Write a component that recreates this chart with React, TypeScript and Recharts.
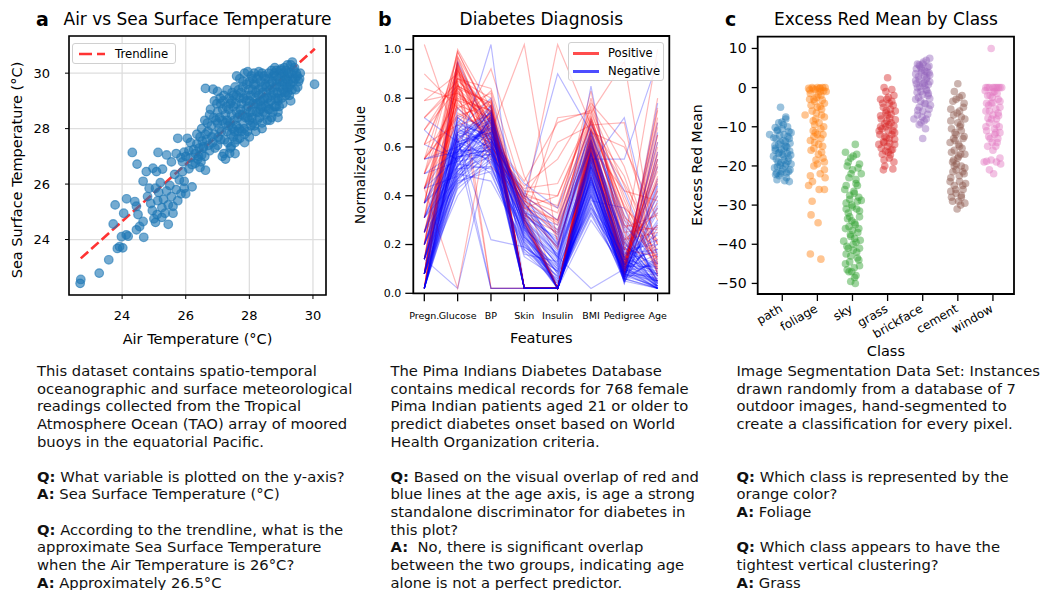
import React from 'react';
import {
  ScatterChart, Scatter, LineChart, Line, XAxis, YAxis, CartesianGrid,
  ReferenceLine, ReferenceArea,
} from 'recharts';

const FONT = '"DejaVu Sans", sans-serif';

// ---------- panel a: air vs sea surface temperature ----------
// [air temperature, sea surface temperature]
const AIR_SEA: [number, number][] = [
  [22.68, 22.42], [22.70, 22.56], [23.28, 22.79], [23.58, 23.27], [23.72, 24.56], [23.78, 25.25],
  [23.85, 23.68], [23.92, 23.74], [24.02, 23.70], [23.98, 24.10], [24.13, 24.17], [24.19, 24.12],
  [24.14, 25.47], [24.05, 24.95], [24.32, 27.14], [24.47, 26.72], [24.40, 25.37], [24.45, 25.20],
  [24.50, 24.90], [24.45, 24.35], [24.55, 24.47], [24.66, 24.65], [24.68, 24.08], [24.66, 26.10],
  [24.76, 26.45], [24.97, 26.57], [25.08, 26.45], [25.13, 27.14], [25.27, 26.54],
  [24.80, 25.55], [24.85, 25.85], [24.90, 25.30], [24.95, 25.05], [25.00, 24.75], [25.05, 24.62],
  [25.10, 24.90], [25.12, 25.40], [25.15, 25.70], [25.20, 26.05], [25.25, 25.15], [25.30, 25.45],
  [25.35, 24.95], [25.40, 25.75], [25.45, 25.25], [25.50, 25.95], [25.55, 25.55], [25.60, 25.20],
  [25.65, 26.35], [25.70, 25.80], [25.75, 25.40], [25.80, 26.15], [25.85, 25.65], [25.90, 26.45],
  [25.95, 25.85], [25.25, 24.80], [25.45, 24.55], [25.05, 25.85], [25.60, 24.95],
  [25.40, 27.05], [25.55, 26.80], [25.70, 27.10], [25.75, 27.65], [25.85, 26.95], [25.95, 27.15],
  [26.05, 27.65], [26.10, 26.55], [26.15, 26.95], [26.25, 27.25], [26.20, 25.90], [26.00, 25.65],
  [25.95, 26.10], [26.30, 26.75], [26.35, 27.45], [26.45, 26.60], [26.50, 27.05], [26.55, 27.35],
  [26.62, 26.50], [26.40, 27.00],
  [26.10, 27.20], [26.20, 26.70], [26.30, 27.10], [26.38, 26.90], [26.42, 27.30], [26.48, 26.80],
  [26.52, 27.55], [25.90, 26.80], [26.00, 27.00], [26.15, 27.50],
  [26.55, 27.30], [26.60, 27.00], [26.65, 27.60], [26.70, 27.90], [26.75, 27.20], [26.80, 28.10],
  [26.85, 27.50], [26.90, 27.80], [26.95, 28.30], [27.00, 27.40], [27.00, 28.60], [27.05, 28.00],
  [27.10, 27.60], [27.10, 28.90], [27.15, 28.30], [27.20, 27.10], [27.20, 29.20], [27.25, 28.50],
  [27.30, 27.90], [27.30, 29.40], [27.35, 28.70], [27.40, 27.30], [27.40, 28.20], [27.45, 29.00],
  [27.50, 27.70], [27.50, 28.80], [27.55, 29.50], [27.60, 28.10], [27.60, 29.20], [27.65, 27.90],
  [27.70, 28.50], [27.70, 29.80], [27.75, 28.90], [27.80, 28.20], [27.80, 29.50], [27.85, 27.80],
  [27.85, 30.00], [27.90, 28.70], [27.90, 29.20], [27.95, 28.40], [28.00, 29.00], [28.00, 29.70],
  [28.05, 28.10], [28.10, 28.60], [28.10, 29.40], [28.15, 30.00], [28.20, 28.90], [28.20, 29.60],
  [28.25, 28.30], [28.30, 29.20], [28.30, 29.90], [28.35, 28.70], [28.40, 29.50], [28.40, 28.20],
  [28.45, 29.00], [28.50, 29.80], [28.50, 28.50], [28.55, 29.30], [28.60, 30.00], [28.60, 28.90],
  [28.65, 29.60], [28.70, 28.40], [28.70, 29.20], [28.75, 29.90], [28.80, 28.80], [28.80, 29.50],
  [28.85, 30.10], [28.90, 29.10], [28.90, 28.60], [28.95, 29.70], [29.00, 29.30], [29.00, 30.00],
  [29.05, 28.90], [29.10, 29.60], [29.10, 30.20], [29.15, 29.20], [29.20, 29.90], [29.25, 29.50],
  [29.30, 30.30], [29.30, 29.00], [29.35, 29.80], [29.40, 30.10], [29.45, 29.40], [29.50, 29.90],
  [29.55, 29.70], [29.60, 30.00], [30.05, 29.60],
  [26.62, 29.45], [26.86, 29.42], [27.00, 29.34], [27.38, 27.11], [27.43, 27.35], [27.70, 27.65],
  [28.11, 28.20], [27.55, 27.50], [28.20, 27.90], [28.40, 28.00], [28.65, 28.30], [28.90, 28.40],
  [28.30, 30.05], [27.95, 30.05], [27.60, 29.90], [28.80, 30.20], [29.00, 30.15], [29.20, 30.30],
  [29.35, 30.40], [26.90, 29.00], [26.75, 28.50], [26.50, 28.00], [26.45, 27.70], [26.35, 27.80],
  [26.60, 28.30], [27.15, 27.00], [27.25, 26.90], [27.55, 27.10], [27.85, 27.50], [28.00, 27.70],
  [27.00, 28.20], [27.30, 28.30], [27.60, 28.60], [27.90, 29.00], [28.20, 29.30], [28.50, 29.60],
  [28.80, 29.90], [29.10, 29.90], [27.40, 28.90], [27.70, 29.10], [28.00, 28.30], [28.30, 28.60],
  [28.60, 28.70], [28.90, 29.00], [29.20, 29.30], [28.10, 29.80], [28.40, 30.00], [28.70, 30.10],
  [27.80, 29.70], [27.50, 29.20],
  [26.62, 27.80], [26.68, 28.20], [26.72, 27.40], [26.78, 28.70], [26.82, 27.70], [26.88, 28.40],
  [26.92, 27.30], [26.98, 28.90], [27.02, 27.70], [27.06, 28.40], [27.08, 29.10], [27.12, 27.90],
  [27.16, 28.70], [27.18, 29.00], [27.22, 27.60], [27.24, 28.20], [27.28, 28.80], [27.32, 27.50],
  [27.34, 28.10], [27.36, 29.10], [27.42, 27.80], [27.44, 28.50], [27.46, 29.30], [27.48, 28.00],
  [27.52, 28.30], [27.54, 27.90], [27.58, 28.90], [27.62, 27.60], [27.64, 28.40], [27.66, 29.40],
  [27.68, 28.00], [27.72, 28.70], [27.74, 29.30], [27.76, 27.90], [27.78, 28.50], [27.82, 29.10],
  [27.84, 28.00], [27.88, 28.40], [27.92, 29.60], [27.94, 27.90], [27.96, 28.80], [27.98, 29.40],
  [28.02, 28.60], [28.04, 29.20], [28.06, 29.90], [28.08, 28.40], [28.12, 28.90], [28.14, 29.60],
  [28.16, 28.10], [28.18, 29.10], [28.22, 28.60], [28.24, 29.80], [28.26, 28.90], [28.28, 29.40],
  [28.32, 28.40], [28.34, 29.00], [28.36, 29.70], [28.38, 28.80], [28.42, 29.30], [28.44, 28.60],
  [28.46, 29.90], [28.48, 29.10], [28.52, 28.80], [28.54, 29.50], [28.56, 28.30], [28.58, 29.10],
  [28.62, 29.80], [28.64, 28.70], [28.66, 29.40], [28.68, 29.00], [28.72, 29.70], [28.74, 28.60],
  [28.76, 29.30], [28.78, 30.00], [28.82, 29.10], [28.84, 28.80], [28.86, 29.60], [28.88, 29.30],
  [28.92, 29.80], [28.94, 28.80], [28.96, 29.50], [28.98, 30.10], [29.02, 29.10], [29.04, 29.70],
  [29.06, 29.40], [29.08, 30.00], [29.12, 29.30], [29.14, 29.80], [29.16, 30.10], [29.18, 29.50],
  [29.22, 29.70], [29.24, 30.00], [29.26, 29.20], [29.28, 29.60], [29.32, 30.00], [29.34, 29.40],
  [29.38, 29.70], [29.42, 30.20], [29.44, 29.80], [29.48, 30.00], [29.52, 29.50], [29.58, 29.80],
];
const TREND_X = [22.7, 30.06];
const TREND_Y = [23.32, 30.88];
const A_X_DOMAIN = [22.33, 30.41];
const A_Y_DOMAIN = [22.0, 31.34];
const A_TICKS = [24, 26, 28, 30];

// ---------- panel b: diabetes parallel coordinates ----------
const FEATURES = ['Pregn.', 'Glucose', 'BP', 'Skin', 'Insulin', 'BMI', 'Pedigree', 'Age'];
const NEGATIVE: number[][] = [
  [0.08, 0.43, 0.54, 0.29, 0.02, 0.43, 0.12, 0.05],
  [0.02, 0.56, 0.57, 0.23, 0.11, 0.50, 0.08, 0.02],
  [0.14, 0.49, 0.61, 0.02, 0.02, 0.37, 0.05, 0.15],
  [0.08, 0.62, 0.66, 0.35, 0.18, 0.58, 0.21, 0.03],
  [0.25, 0.55, 0.70, 0.02, 0.02, 0.42, 0.10, 0.20],
  [0.02, 0.69, 0.59, 0.32, 0.22, 0.62, 0.15, 0.08],
  [0.31, 0.52, 0.72, 0.27, 0.02, 0.48, 0.06, 0.25],
  [0.14, 0.60, 0.49, 0.19, 0.09, 0.35, 0.18, 0.02],
  [0.20, 0.47, 0.64, 0.02, 0.02, 0.45, 0.09, 0.12],
  [0.02, 0.73, 0.67, 0.38, 0.25, 0.67, 0.30, 0.05],
  [0.37, 0.58, 0.75, 0.31, 0.02, 0.53, 0.07, 0.35],
  [0.08, 0.51, 0.56, 0.15, 0.06, 0.33, 0.13, 0.03],
  [0.43, 0.63, 0.77, 0.02, 0.02, 0.55, 0.04, 0.42],
  [0.02, 0.66, 0.62, 0.42, 0.14, 0.71, 0.24, 0.07],
  [0.14, 0.45, 0.52, 0.26, 0.08, 0.40, 0.11, 0.02],
  [0.25, 0.57, 0.69, 0.02, 0.02, 0.46, 0.16, 0.18],
  [0.08, 0.71, 0.58, 0.33, 0.28, 0.60, 0.20, 0.10],
  [0.49, 0.54, 0.72, 0.24, 0.02, 0.51, 0.06, 0.47],
  [0.02, 0.49, 0.46, 0.21, 0.05, 0.38, 0.35, 0.02],
  [0.20, 0.61, 0.65, 0.02, 0.02, 0.57, 0.08, 0.22],
  [0.31, 0.67, 0.80, 0.36, 0.19, 0.64, 0.12, 0.28],
  [0.14, 0.02, 0.60, 0.20, 0.02, 0.44, 0.07, 0.13],
  [0.08, 0.58, 0.02, 0.02, 0.02, 0.52, 0.14, 0.05],
  [0.02, 0.64, 0.02, 0.02, 0.02, 0.30, 0.10, 0.02],
  [0.55, 0.60, 0.74, 0.02, 0.02, 0.49, 0.05, 0.55],
  [0.08, 0.76, 0.63, 0.45, 0.35, 0.69, 0.42, 0.08],
  [0.37, 0.50, 0.68, 0.28, 0.02, 0.41, 0.09, 0.33],
  [0.02, 0.59, 0.55, 0.30, 0.16, 0.56, 0.19, 0.03],
  [0.25, 0.46, 0.62, 0.18, 0.07, 0.36, 0.05, 0.27],
  [0.61, 0.55, 0.71, 0.02, 0.02, 0.47, 0.11, 0.62],
  [0.14, 0.68, 0.57, 0.37, 0.20, 0.61, 0.27, 0.07],
  [0.02, 0.53, 0.51, 0.25, 0.10, 0.45, 0.06, 0.02],
  [0.72, 0.62, 0.76, 0.29, 0.02, 0.54, 0.08, 0.78],
  [0.08, 0.95, 0.65, 0.40, 0.90, 0.66, 0.17, 0.12],
  [0.20, 0.57, 1.02, 0.02, 0.02, 0.50, 0.13, 0.70],
  [0.02, 0.44, 0.60, 0.34, 0.15, 0.02, 0.10, 0.05],
  [0.31, 0.61, 0.66, 0.22, 0.02, 0.53, 0.72, 0.15],
  [0.14, 0.56, 0.59, 0.27, 0.12, 0.85, 0.14, 0.04],
  [0.43, 0.48, 0.73, 0.02, 0.02, 0.43, 0.07, 0.45],
  [0.02, 0.65, 0.53, 0.16, 0.13, 0.59, 0.22, 0.02],
  [0.08, 0.40, 0.58, 0.23, 0.04, 0.32, 0.09, 0.06],
  [0.25, 0.70, 0.64, 0.31, 0.23, 0.63, 0.18, 0.20],
  [0.37, 0.52, 0.70, 0.02, 0.02, 0.48, 0.04, 0.38],
  [0.08, 0.63, 0.22, 0.19, 0.09, 0.46, 0.12, 0.08],
  [0.14, 0.59, 0.68, 0.33, 0.17, 0.55, 0.55, 0.95],
  [0.02, 0.50, 0.62, 0.02, 0.02, 0.40, 0.06, 0.02],
  [0.20, 0.66, 0.74, 0.26, 0.02, 0.58, 0.10, 0.16],
  [0.49, 0.58, 0.77, 0.02, 0.02, 0.52, 0.08, 0.52],
  [0.08, 0.72, 0.61, 0.39, 0.26, 0.65, 0.32, 0.04],
  [0.02, 0.47, 0.57, 0.28, 0.08, 0.34, 0.15, 0.02],
  [0.02, 0.58, 0.60, 0.27, 0.12, 0.49, 0.11, 0.03],
  [0.08, 0.52, 0.63, 0.02, 0.02, 0.44, 0.07, 0.08],
  [0.14, 0.64, 0.70, 0.30, 0.15, 0.57, 0.14, 0.10],
  [0.02, 0.61, 0.54, 0.22, 0.10, 0.47, 0.09, 0.02],
  [0.20, 0.55, 0.66, 0.25, 0.02, 0.50, 0.12, 0.18],
  [0.08, 0.48, 0.59, 0.02, 0.02, 0.39, 0.08, 0.05],
  [0.25, 0.66, 0.72, 0.34, 0.21, 0.61, 0.16, 0.22],
  [0.02, 0.54, 0.57, 0.20, 0.07, 0.42, 0.05, 0.02],
  [0.31, 0.60, 0.69, 0.02, 0.02, 0.52, 0.10, 0.30],
  [0.14, 0.57, 0.62, 0.29, 0.14, 0.55, 0.13, 0.09],
  [0.08, 0.69, 0.65, 0.36, 0.24, 0.63, 0.21, 0.06],
  [0.02, 0.45, 0.55, 0.24, 0.06, 0.37, 0.08, 0.02],
  [0.37, 0.63, 0.74, 0.27, 0.02, 0.56, 0.09, 0.36],
  [0.20, 0.50, 0.61, 0.02, 0.02, 0.41, 0.06, 0.14],
  [0.08, 0.59, 0.58, 0.31, 0.16, 0.53, 0.17, 0.04],
  [0.02, 0.67, 0.63, 0.33, 0.19, 0.60, 0.26, 0.05],
  [0.43, 0.56, 0.71, 0.02, 0.02, 0.47, 0.07, 0.44],
  [0.14, 0.53, 0.64, 0.23, 0.09, 0.46, 0.11, 0.11],
  [0.25, 0.62, 0.67, 0.28, 0.13, 0.54, 0.15, 0.24],
  [0.02, 0.51, 0.52, 0.18, 0.05, 0.35, 0.10, 0.02],
  [0.55, 0.58, 0.75, 0.02, 0.02, 0.51, 0.06, 0.58],
  [0.08, 0.65, 0.60, 0.37, 0.20, 0.62, 0.19, 0.07],
  [0.31, 0.47, 0.66, 0.21, 0.02, 0.40, 0.08, 0.29],
  [0.14, 0.72, 0.63, 0.40, 0.30, 0.66, 0.28, 0.12],
  [0.02, 0.56, 0.59, 0.02, 0.02, 0.45, 0.12, 0.03],
  [0.20, 0.60, 0.68, 0.30, 0.11, 0.57, 0.14, 0.17],
  [0.67, 0.54, 0.73, 0.02, 0.02, 0.48, 0.05, 0.66],
  [0.08, 0.46, 0.50, 0.17, 0.04, 0.33, 0.07, 0.03],
  [0.37, 0.65, 0.71, 0.32, 0.02, 0.58, 0.11, 0.40],
  [0.02, 0.62, 0.56, 0.26, 0.15, 0.52, 0.23, 0.04],
];
const POSITIVE: number[][] = [
  [0.37, 0.92, 0.67, 0.40, 0.02, 0.64, 0.20, 0.45],
  [0.02, 0.85, 0.59, 0.35, 0.30, 0.70, 0.35, 0.10],
  [0.49, 0.99, 0.72, 0.02, 0.02, 0.58, 0.12, 0.55],
  [0.14, 0.78, 0.62, 0.32, 0.25, 0.67, 0.45, 0.20],
  [0.67, 0.88, 0.80, 0.02, 0.02, 0.55, 0.08, 0.62],
  [0.08, 0.95, 0.55, 0.43, 0.45, 0.73, 0.28, 0.15],
  [0.55, 0.73, 0.77, 0.30, 0.02, 0.61, 0.18, 0.50],
  [0.25, 0.82, 0.70, 0.37, 0.18, 0.66, 0.60, 0.30],
  [0.79, 0.90, 0.74, 0.02, 0.02, 0.59, 0.10, 0.72],
  [0.02, 0.97, 0.64, 0.46, 0.70, 0.75, 0.38, 0.08],
  [0.43, 0.70, 0.83, 0.28, 0.02, 0.57, 0.14, 0.40],
  [0.20, 0.87, 0.02, 0.02, 0.02, 0.62, 0.22, 0.25],
  [0.61, 0.93, 0.69, 0.34, 0.02, 0.68, 0.09, 0.58],
  [0.08, 0.80, 0.58, 0.41, 0.35, 0.77, 0.52, 0.12],
  [0.31, 1.00, 0.76, 0.02, 0.02, 0.60, 0.16, 0.35],
  [0.90, 0.76, 0.82, 0.02, 0.02, 0.54, 0.07, 0.65],
  [0.14, 0.89, 0.63, 0.38, 0.28, 0.71, 0.30, 0.18],
  [0.02, 0.66, 0.92, 0.48, 0.22, 0.80, 0.25, 0.05],
  [0.49, 0.84, 0.71, 0.02, 0.02, 0.63, 0.11, 0.47],
  [0.37, 0.95, 0.02, 0.02, 0.02, 0.60, 0.42, 0.38],
  [1.02, 0.62, 0.79, 0.02, 0.02, 0.52, 0.06, 0.80],
  [0.25, 0.74, 0.66, 1.02, 0.20, 0.62, 0.15, 0.28],
  [0.08, 0.91, 0.61, 0.36, 1.02, 0.69, 0.48, 0.10],
  [0.84, 0.79, 0.75, 0.31, 0.02, 0.58, 0.09, 0.68],
  [0.02, 0.86, 0.57, 0.30, 0.72, 0.74, 0.95, 0.12],
  [0.55, 0.97, 0.73, 0.02, 0.02, 0.65, 0.20, 1.00],
  [0.20, 0.83, 0.68, 0.35, 0.40, 0.72, 0.35, 0.22],
  [0.43, 0.02, 0.75, 0.02, 0.02, 0.55, 0.12, 0.55],
  [0.43, 0.76, 0.64, 0.29, 0.02, 0.48, 0.08, 0.43],
  [0.14, 0.94, 0.60, 0.44, 0.55, 0.78, 0.62, 0.20],
  [0.31, 0.81, 0.71, 0.02, 0.02, 0.66, 0.27, 0.32],
  [0.08, 0.88, 0.84, 0.40, 0.30, 0.83, 0.18, 0.15],
  [0.61, 0.69, 0.73, 0.33, 0.02, 0.59, 0.13, 0.60],
  [0.02, 0.92, 0.52, 0.39, 0.62, 0.69, 0.70, 0.07],
  [0.72, 0.85, 0.78, 0.02, 0.02, 0.57, 0.10, 0.75],
  [0.43, 0.88, 0.70, 0.02, 0.02, 0.62, 0.15, 0.48],
  [0.08, 0.92, 0.63, 0.39, 0.33, 0.72, 0.32, 0.14],
  [0.55, 0.80, 0.75, 0.31, 0.02, 0.60, 0.12, 0.53],
  [0.20, 0.96, 0.66, 0.02, 0.02, 0.67, 0.25, 0.27],
  [0.67, 0.84, 0.78, 0.02, 0.02, 0.57, 0.09, 0.65],
  [0.02, 0.90, 0.60, 0.42, 0.40, 0.74, 0.40, 0.09],
  [0.49, 0.77, 0.72, 0.29, 0.02, 0.63, 0.14, 0.46],
  [0.31, 0.94, 0.69, 0.35, 0.26, 0.70, 0.22, 0.33],
  [0.72, 0.87, 0.76, 0.02, 0.02, 0.59, 0.11, 0.70],
  [0.14, 0.83, 0.61, 0.37, 0.24, 0.68, 0.36, 0.16],
  [0.61, 0.91, 0.74, 0.02, 0.02, 0.61, 0.10, 0.57],
  [0.25, 0.79, 0.67, 0.33, 0.19, 0.65, 0.28, 0.26],
  [0.37, 0.99, 0.71, 0.02, 0.02, 0.64, 0.18, 0.37],
  [0.08, 0.86, 0.58, 0.40, 0.36, 0.76, 0.44, 0.11],
  [0.55, 0.72, 0.79, 0.30, 0.02, 0.56, 0.10, 0.52],
  [0.79, 0.82, 0.73, 0.02, 0.02, 0.58, 0.08, 0.76],
  [0.20, 0.93, 0.65, 0.38, 0.29, 0.71, 0.31, 0.21],
  [0.43, 0.85, 0.77, 0.02, 0.02, 0.60, 0.13, 0.42],
];
const B_Y_DOMAIN = [0, 1.055];
const B_TICKS = [0, 0.2, 0.4, 0.6, 0.8, 1.0];

// ---------- panel c: excess red mean by class ----------
const CLASSES = ['path', 'foliage', 'sky', 'grass', 'brickface', 'cement', 'window'];
const CLASS_COLORS = ['#1f77b4', '#ff7f0e', '#2ca02c', '#d62728', '#9467bd', '#8c564b', '#e377c2'];
// [jitter, excess red mean]
const PATH_PTS: [number, number][] = [
  [-0.05, -5], [-0.36, -12], [0.25, -11.5], [-0.2, -15.5], [0.1, -8], [-0.1, -9], [0.15, -10], [-0.15, -11],
  [0.05, -12], [0.2, -13], [-0.05, -14], [0.1, -15], [-0.2, -16], [0.0, -17], [0.18, -18], [-0.12, -19],
  [0.08, -20], [-0.22, -20.5], [0.22, -21], [-0.05, -22], [0.12, -23], [-0.15, -23.5], [0.2, -24], [0.02, -13.5],
  [-0.08, -16.5], [0.14, -16.8], [-0.18, -13], [0.05, -18.5], [-0.02, -21.5], [0.25, -19.5], [-0.25, -17.5],
  [0.0, -10.5], [0.1, -7.5], [-0.1, -14.5], [0.16, -12.5], [-0.06, -19.8], [0.06, -15.5], [-0.16, -21.8],
  [0.22, -14.2], [-0.2, -10.2],
  [0.03, -9.5], [-0.13, -10.8], [0.19, -11.2], [-0.07, -12.2], [0.09, -13.8], [-0.21, -14.8], [0.13, -15.2],
  [-0.03, -15.8], [0.21, -16.2], [-0.11, -16.8], [0.04, -17.5], [-0.17, -18.2], [0.16, -18.8], [-0.04, -19.2],
  [0.11, -19.5], [-0.14, -20.2], [0.01, -20.8], [0.18, -21.4], [-0.09, -22.5], [0.07, -23.8], [-0.24, -12.8],
  [0.24, -17.2], [-0.01, -8.8], [0.12, -21.8], [-0.19, -22.2],
];
const FOLIAGE_PTS: [number, number][] = [
  [-0.35, -7], [0.0, 0], [-0.15, 0], [0.15, 0], [0.22, 0], [-0.05, -0.5], [0.08, -1], [-0.2, -1.5], [0.1, -2],
  [-0.1, -3], [0.2, -4], [0.0, -5], [-0.15, -6], [0.12, -7], [-0.05, -8], [0.05, -9], [0.18, -10], [-0.12, -11],
  [0.0, -12], [0.1, -13], [-0.08, -14], [0.15, -15], [-0.18, -16], [0.03, -17], [0.2, -19], [-0.1, -20],
  [0.08, -22], [-0.2, -22.5], [0.22, -23], [-0.25, -25], [0.05, -26], [0.2, -26], [-0.15, -29], [-0.18, -32.5],
  [0.02, -34.5], [-0.2, -42.5], [0.1, -43.8], [-0.02, -2.5], [0.12, -5.5], [-0.08, -9.5], [0.16, -18],
  [-0.22, -3], [0.25, -1], [-0.1, -12.5],
  [-0.12, -0.3], [0.06, -0.2], [0.18, -0.8], [-0.22, -0.6], [0.02, -1.8], [-0.08, -3.5], [0.14, -3.2],
  [-0.18, -4.5], [0.08, -4.8], [-0.03, -6.5], [0.2, -7.5], [-0.12, -8.5], [0.1, -10.5], [-0.06, -11.5],
  [0.16, -12], [-0.2, -13.5], [0.04, -14.5], [-0.1, -15.5], [0.12, -16.5], [-0.04, -18.5], [0.2, -21],
  [-0.14, -24], [0.0, -19.5], [0.08, -0.1], [-0.25, -0.2],
];
const SKY_PTS: [number, number][] = [
  [0.08, -14.5], [-0.2, -16.5], [0.12, -17], [-0.05, -18], [0.2, -19.5], [-0.15, -20], [0.0, -21], [0.25, -22],
  [-0.1, -23], [0.1, -24.5], [-0.22, -26], [0.05, -27], [0.18, -28], [-0.08, -28.5], [0.25, -28.8], [-0.18, -29.5],
  [0.0, -30.5], [0.12, -31], [-0.12, -32], [0.2, -33], [-0.02, -34], [0.08, -35], [-0.2, -36], [0.15, -37],
  [-0.05, -38], [0.22, -39], [-0.25, -39.2], [0.02, -40], [-0.12, -41], [0.12, -42], [-0.05, -43], [0.18, -44],
  [-0.2, -45], [0.05, -46], [-0.1, -47], [0.1, -48], [-0.05, -49.5], [0.08, -50], [-0.15, -46.5], [0.0, -36.5],
  [0.14, -25], [-0.08, -33], [0.2, -41], [-0.18, -31], [0.06, -38.5],
  [0.02, -17.5], [-0.12, -19], [0.16, -20.5], [-0.04, -22], [0.1, -23.5], [-0.18, -25], [0.04, -26.5],
  [-0.08, -27.5], [0.14, -29], [-0.02, -30], [0.2, -31.5], [-0.14, -33.5], [0.06, -34.5], [-0.1, -35.5],
  [0.18, -36], [-0.06, -37.5], [0.1, -39.5], [-0.16, -40.5], [0.02, -41.5], [0.14, -43.5], [-0.08, -44.5],
  [0.2, -45.5], [-0.02, -47], [0.06, -48.5], [-0.18, -42.5],
];
const GRASS_PTS: [number, number][] = [
  [0.0, 2.5], [-0.1, 0], [0.12, -0.5], [-0.05, -1], [0.18, -2], [-0.2, -3], [0.05, -4], [-0.12, -5], [0.22, -6],
  [0.0, -7], [-0.18, -8], [0.1, -9], [-0.05, -10], [0.15, -11], [-0.22, -12], [0.05, -13], [-0.1, -14],
  [0.2, -14.5], [-0.25, -14.5], [0.0, -15], [0.1, -16], [-0.15, -17], [0.05, -18], [0.18, -19], [-0.08, -20],
  [-0.12, -21], [0.15, -20.8], [0.08, -5.5], [-0.02, -8.5], [0.2, -11.5], [-0.08, -12.5], [0.02, -16.5],
  [-0.2, -10], [0.12, -3.5], [-0.05, -6.5],
  [0.02, -2.5], [-0.14, -4], [0.16, -4.5], [-0.04, -5.8], [0.1, -6.8], [-0.2, -7.2], [0.06, -7.8], [-0.08, -9.2],
  [0.18, -9.8], [-0.16, -10.5], [0.02, -11], [0.12, -12], [-0.04, -12.8], [0.2, -13.2], [-0.12, -13.8],
  [0.06, -14.2], [-0.18, -15.5], [0.14, -15.8], [-0.06, -16.2], [0.08, -17.2], [-0.1, -18.5], [0.22, -8.2],
  [-0.24, -11], [0.04, -9.5], [-0.02, -3],
];
const BRICKFACE_PTS: [number, number][] = [
  [0.2, 7.5], [0.1, 7], [-0.15, 6], [0.0, 6], [0.18, 5.5], [-0.05, 5], [0.12, 4], [-0.2, 3.5], [0.05, 3],
  [-0.1, 2], [0.2, 1.5], [0.0, 1], [-0.15, 0], [0.1, -0.5], [-0.05, -1], [0.15, -2], [-0.2, -3], [0.05, -4],
  [-0.1, -5], [0.18, -5.5], [0.0, -6], [-0.15, -7], [0.1, -8], [-0.05, -9], [0.08, -10.5], [0.0, -13],
  [-0.25, -8], [0.22, -4.5], [-0.02, 4.5], [0.12, 2.5], [-0.12, -2.5], [0.06, 0.5], [-0.08, 5.5], [0.16, -1.5],
  [-0.18, 1],
  [0.02, 6.5], [-0.1, 5.8], [0.14, 5.2], [-0.18, 4.8], [0.06, 4.2], [-0.04, 3.8], [0.2, 3.2], [-0.12, 2.8],
  [0.1, 2.2], [-0.2, 1.8], [0.04, 1.2], [0.16, 0.8], [-0.08, 0.2], [0.12, -0.8], [-0.16, -1.2], [0.0, -1.8],
  [0.2, -2.8], [-0.06, -3.5], [0.08, -4.2], [-0.14, -5.8], [0.14, -6.8], [-0.02, -7.5], [0.04, -8.5],
  [-0.1, -9.5], [0.18, 3.8],
];
const CEMENT_PTS: [number, number][] = [
  [0.0, 1], [-0.1, -1], [0.12, -2], [-0.05, -3], [0.18, -4], [-0.2, -5.5], [0.05, -6], [-0.12, -7], [0.2, -8],
  [0.0, -9], [-0.18, -10.5], [0.1, -11], [-0.05, -12], [0.15, -13], [-0.22, -14], [0.05, -15], [-0.1, -16],
  [0.2, -17], [0.0, -18], [-0.15, -19], [0.1, -20], [-0.05, -21], [0.18, -22], [-0.2, -23], [0.05, -24],
  [-0.1, -25], [0.15, -26], [-0.05, -27], [0.1, -28], [-0.15, -29], [0.2, -29.5], [-0.02, -31], [0.08, -30],
  [0.02, -17.5], [-0.08, -13.5], [0.14, -21.5], [-0.2, -26.5], [0.08, -9.5], [-0.12, -18.5], [0.22, -24.5],
  [0.04, -2.5], [-0.14, -3.5], [0.16, -5], [-0.02, -6.5], [0.1, -7.5], [-0.2, -8.5], [0.06, -10], [-0.08, -11.5],
  [0.18, -12.5], [-0.12, -13], [0.02, -14.5], [0.12, -15.5], [-0.18, -16.5], [0.08, -17], [-0.04, -19.5],
  [0.2, -20.5], [-0.14, -21.5], [0.04, -22.5], [-0.22, -24], [0.14, -25], [-0.06, -26], [0.1, -27.5],
  [-0.18, -28], [0.02, -29], [-0.1, -20],
];
const WINDOW_PTS: [number, number][] = [
  [-0.05, 10], [-0.2, 0], [-0.1, 0], [0.0, 0], [0.1, 0], [0.2, 0], [0.25, 0], [0.05, -1], [-0.15, -2], [0.15, -3],
  [-0.05, -4], [0.2, -5], [-0.2, -6], [0.0, -7], [0.1, -8], [-0.1, -9], [0.18, -10], [-0.18, -11], [0.05, -12],
  [-0.08, -13], [0.12, -14], [-0.15, -15], [0.0, -16], [-0.25, -19], [0.2, -18], [-0.05, -18.5], [0.1, -19],
  [-0.1, -21], [0.02, -22], [0.15, -6.5], [-0.12, -4.5], [0.08, -11.5], [-0.02, -2.5],
  [-0.15, 0], [0.15, 0], [0.05, 0], [-0.22, -0.8], [0.12, -1.5], [-0.08, -2], [0.2, -3.5], [0.0, -3.8],
  [-0.18, -4], [0.08, -5.5], [-0.1, -6], [0.16, -7.2], [-0.04, -8], [0.1, -9.5], [-0.2, -10], [0.04, -10.5],
  [0.2, -11.5], [-0.12, -12.5], [0.14, -13], [-0.02, -14], [0.08, -15], [-0.18, -18.8], [0.22, -19.5],
  [0.0, -1.2], [-0.14, -7.8],
];
const CLASS_PTS = [PATH_PTS, FOLIAGE_PTS, SKY_PTS, GRASS_PTS, BRICKFACE_PTS, CEMENT_PTS, WINDOW_PTS];
const C_X_DOMAIN = [-0.7, 6.6];
const C_Y_DOMAIN = [-52.7, 13.0];
const C_TICKS = [-50, -40, -30, -20, -10, 0, 10];

// ---------- texts ----------
const TEXT_A = [
  'This dataset contains spatio-temporal',
  'oceanographic and surface meteorological',
  'readings collected from the Tropical',
  'Atmosphere Ocean (TAO) array of moored',
  'buoys in the equatorial Pacific.',
  '',
  'Q:| What variable is plotted on the y-axis?',
  'A:| Sea Surface Temperature (°C)',
  '',
  'Q:| According to the trendline, what is the',
  'approximate Sea Surface Temperature',
  'when the Air Temperature is 26°C?',
  'A:| Approximately 26.5°C',
];
const TEXT_B = [
  'The Pima Indians Diabetes Database',
  'contains medical records for 768 female',
  'Pima Indian patients aged 21 or older to',
  'predict diabetes onset based on World',
  'Health Organization criteria.',
  '',
  'Q:| Based on the visual overlap of red and',
  'blue lines at the age axis, is age a strong',
  'standalone discriminator for diabetes in',
  'this plot?',
  'A:|  No, there is significant overlap',
  'between the two groups, indicating age',
  'alone is not a perfect predictor.',
];
const TEXT_C = [
  'Image Segmentation Data Set: Instances',
  'drawn randomly from a database of 7',
  'outdoor images, hand-segmented to',
  'create a classification for every pixel.',
  '',
  '',
  'Q:| Which class is represented by the',
  'orange color?',
  'A:| Foliage',
  '',
  'Q:| Which class appears to have the',
  'tightest vertical clustering?',
  'A:| Grass',
];

const tickStyle = (size: number) => ({ fill: '#000', fontSize: size, fontFamily: FONT });

function Abs({ left, top, children, style }: any) {
  return <div style={{ position: 'absolute', left, top, ...style }}>{children}</div>;
}

function PanelTitle({ letter, letterX, title, cx }: any) {
  return (
    <>
      <Abs left={letterX} top={8} style={{ fontSize: 19, fontWeight: 'bold', lineHeight: '22px' }}>{letter}</Abs>
      <Abs left={cx} top={9} style={{ fontSize: 17, lineHeight: '20px', transform: 'translateX(-50%)', whiteSpace: 'nowrap' }}>{title}</Abs>
    </>
  );
}

function AxisLabel({ cx, cy, text, rotate, size = 14.5 }: any) {
  return (
    <Abs left={cx} top={cy} style={{
      fontSize: size, whiteSpace: 'nowrap', lineHeight: '18px',
      transform: `translate(-50%, -50%)${rotate ? ' rotate(-90deg)' : ''}`,
    }}>{text}</Abs>
  );
}

function TextBlock({ left, lines }: any) {
  return (
    <Abs left={left} top={362} style={{ fontSize: 14.75, lineHeight: '17.65px', whiteSpace: 'pre', color: '#111' }}>
      {lines.map((l: string, i: number) => {
        const parts = l.split('|');
        return (
          <div key={i} style={{ height: 17.65 }}>
            {parts.length > 1 ? <><b>{parts[0]}</b>{parts[1]}</> : l}
          </div>
        );
      })}
    </Abs>
  );
}

function AirSeaPanel() {
  const pts = AIR_SEA.map(([x, y]) => ({ x, y }));
  return (
    <Abs left={0} top={0}>
      <ScatterChart width={340} height={350} margin={{ top: 36, right: 14, bottom: 5, left: 0 }}>
        <CartesianGrid stroke="#dedede" strokeWidth={1.3} />
        <XAxis type="number" dataKey="x" domain={A_X_DOMAIN} ticks={A_TICKS} allowDataOverflow
          height={50} tickSize={4} tickMargin={12} axisLine={false} tickLine={{ stroke: '#000' }} tick={tickStyle(13)} />
        <YAxis type="number" dataKey="y" domain={A_Y_DOMAIN} ticks={A_TICKS} allowDataOverflow
          width={69} tickSize={4} tickMargin={15} axisLine={false} tickLine={{ stroke: '#000' }} tick={tickStyle(13)} />
        <Scatter data={pts} isAnimationActive={false}
          shape={(p: any) => <circle cx={p.cx} cy={p.cy} r={4.3} fill="#1f77b4" fillOpacity={0.62} stroke="#1f77b4" strokeOpacity={0.62} strokeWidth={1.2} />} />
        <ReferenceLine segment={[{ x: TREND_X[0], y: TREND_Y[0] }, { x: TREND_X[1], y: TREND_Y[1] }]}
          stroke="#ff3333" strokeWidth={2.6} strokeDasharray="10 4" ifOverflow="visible" />
        <ReferenceArea x1={A_X_DOMAIN[0]} x2={A_X_DOMAIN[1]} y1={A_Y_DOMAIN[0]} y2={A_Y_DOMAIN[1]}
          fill="none" stroke="#000" strokeWidth={1.6} ifOverflow="visible" />
      </ScatterChart>
    </Abs>
  );
}

function FeatureTick({ x, y, payload }: any) {
  return (
    <text x={x} y={y} dy={16} textAnchor="middle" fontSize={9.5} fontFamily={FONT} fill="#000">
      {FEATURES[payload.value]}
    </text>
  );
}

function DiabetesPanel() {
  // interleave groups so red and blue lines are mixed in drawing order
  const lines: { vals: number[]; pos: boolean }[] = [];
  NEGATIVE.forEach((n, i) => {
    lines.push({ vals: n, pos: false });
    if (POSITIVE[i]) lines.push({ vals: POSITIVE[i], pos: true });
  });
  const rows = FEATURES.map((_, fi) => {
    const row: any = { x: fi };
    lines.forEach((l, li) => { row['l' + li] = l.vals[fi]; });
    return row;
  });
  return (
    <Abs left={345} top={0}>
      <LineChart width={340} height={350} data={rows} margin={{ top: 36, right: 15.7, bottom: 6.7, left: 0 }}>
        <XAxis type="number" dataKey="x" domain={[-0.33, 7.35]} ticks={[0, 1, 2, 3, 4, 5, 6, 7]} allowDataOverflow
          height={50} tickSize={8} axisLine={false} tickLine={{ stroke: '#000', strokeWidth: 1.3 }} tick={<FeatureTick />} />
        <YAxis type="number" domain={B_Y_DOMAIN} ticks={B_TICKS} allowDataOverflow width={68.3}
          tickSize={8} tickMargin={4} axisLine={false} tickLine={{ stroke: '#000', strokeWidth: 1.3 }}
          tickFormatter={(v: number) => v.toFixed(1)} tick={tickStyle(11)} />
        {lines.map((l, li) => (
          <Line key={li} dataKey={'l' + li} type="linear" dot={false} isAnimationActive={false}
            stroke={l.pos ? '#ff0000' : '#0000ff'} strokeOpacity={0.28} strokeWidth={1.2} />
        ))}
        <ReferenceArea x1={-0.33} x2={7.35} y1={B_Y_DOMAIN[0]} y2={B_Y_DOMAIN[1]}
          fill="none" stroke="#000" strokeWidth={1.8} ifOverflow="visible" />
      </LineChart>
    </Abs>
  );
}

function ClassTick({ x, y, payload }: any) {
  const ax = x + 1;
  const ay = y + 8;
  return (
    <text x={ax} y={ay} transform={`rotate(-30, ${ax}, ${ay})`} textAnchor="end" fontSize={12} fontFamily={FONT} fill="#000">
      {CLASSES[payload.value]}
    </text>
  );
}

function SegmentationPanel() {
  return (
    <Abs left={680} top={0}>
      <ScatterChart width={362} height={360} margin={{ top: 36.7, right: 28, bottom: 6, left: 0 }}>
        <XAxis type="number" dataKey="x" domain={C_X_DOMAIN} ticks={[0, 1, 2, 3, 4, 5, 6]} allowDataOverflow
          height={60} tickSize={7} axisLine={false} tickLine={{ stroke: '#000', strokeWidth: 1.3 }} tick={<ClassTick />} />
        <YAxis type="number" dataKey="y" domain={C_Y_DOMAIN} ticks={C_TICKS} allowDataOverflow width={77.7}
          tickSize={6} tickMargin={5} axisLine={false} tickLine={{ stroke: '#000', strokeWidth: 1.3 }}
          tickFormatter={(v: number) => (v < 0 ? '\u2212' + Math.abs(v) : String(v))} tick={tickStyle(14)} />
        {CLASS_PTS.map((pts, ci) => (
          <Scatter key={CLASSES[ci]} data={pts.map(([dx, y]) => ({ x: ci + dx, y }))} isAnimationActive={false}
            shape={(p: any) => <circle cx={p.cx} cy={p.cy} r={3.8} fill={CLASS_COLORS[ci]} fillOpacity={0.45} />} />
        ))}
        <ReferenceArea x1={C_X_DOMAIN[0]} x2={C_X_DOMAIN[1]} y1={C_Y_DOMAIN[0]} y2={C_Y_DOMAIN[1]}
          fill="none" stroke="#000" strokeWidth={1.8} ifOverflow="visible" />
      </ScatterChart>
    </Abs>
  );
}

function LegendA() {
  return (
    <Abs left={72} top={43} style={{ width: 104, height: 21, boxSizing: 'border-box', border: '1px solid #d0d0d0', borderRadius: 3, background: 'rgba(255,255,255,0.8)' }}>
      <svg width={30} height={19} style={{ position: 'absolute', left: 4, top: 0 }}>
        <line x1={2} y1={10} x2={28} y2={10} stroke="#ff3333" strokeWidth={2.6} strokeDasharray="13 5" />
      </svg>
      <span style={{ position: 'absolute', left: 42, top: 1, fontSize: 11.7, lineHeight: '18px' }}>Trendline</span>
    </Abs>
  );
}

function LegendB() {
  const entries = [{ label: 'Positive', color: '#ff4d4d' }, { label: 'Negative', color: '#4d4dff' }];
  return (
    <Abs left={568} top={42} style={{ width: 96, height: 39, boxSizing: 'border-box', border: '1px solid #d0d0d0', borderRadius: 3, background: 'rgba(255,255,255,0.8)' }}>
      {entries.map((e, i) => (
        <div key={e.label} style={{ position: 'absolute', left: 3, top: 1 + i * 18.3, height: 18, width: 92 }}>
          <div style={{ position: 'absolute', left: 1, top: 8, width: 26, height: 3, background: e.color }} />
          <span style={{ position: 'absolute', left: 36, top: 0, fontSize: 11.6, lineHeight: '18px' }}>{e.label}</span>
        </div>
      ))}
    </Abs>
  );
}

export default function App() {
  return (
    <div style={{ position: 'absolute', left: 0, top: 0, width: 1042, height: 590, background: '#fff', fontFamily: FONT, color: '#000', overflow: 'hidden' }}>
      <AirSeaPanel />
      <DiabetesPanel />
      <SegmentationPanel />

      <PanelTitle letter="a" letterX={36} title="Air vs Sea Surface Temperature" cx={197.5} />
      <PanelTitle letter="b" letterX={378} title="Diabetes Diagnosis" cx={541.3} />
      <PanelTitle letter="c" letterX={725} title="Excess Red Mean by Class" cx={885.9} />

      <LegendA />
      <LegendB />

      <AxisLabel cx={197.5} cy={339} text="Air Temperature (°C)" />
      <AxisLabel cx={17} cy={170} text="Sea Surface Temperature (°C)" rotate />
      <AxisLabel cx={541.3} cy={338} text="Features" />
      <AxisLabel cx={360} cy={165} text="Normalized Value" rotate size={13.5} />
      <AxisLabel cx={885.9} cy={351} text="Class" />
      <AxisLabel cx={697} cy={165} text="Excess Red Mean" rotate size={14} />

      <TextBlock left={37} lines={TEXT_A} />
      <TextBlock left={390.5} lines={TEXT_B} />
      <TextBlock left={736.5} lines={TEXT_C} />
    </div>
  );
}
